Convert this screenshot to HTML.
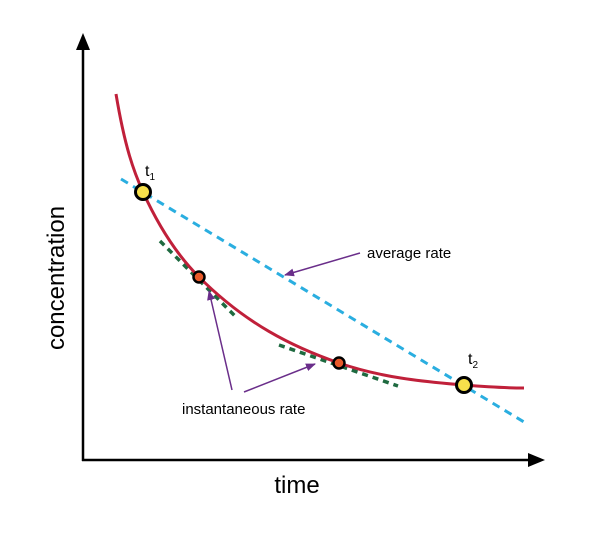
<!DOCTYPE html>
<html><head><style>body{margin:0;background:#fff}svg{display:block}</style></head><body>
<svg width="603" height="544" xmlns="http://www.w3.org/2000/svg" font-family="Liberation Sans, sans-serif">
<defs>
<marker id="ah" markerWidth="10" markerHeight="10" refX="9" refY="5" orient="auto" markerUnits="userSpaceOnUse"><path d="M0,1 L10,5 L0,9 Z" fill="#6a2e8a"/></marker>
</defs>
<line x1="83" y1="461" x2="83" y2="48" stroke="#000" stroke-width="2.5"/>
<path d="M76,50 L83,33 L90,50 Z" fill="#000"/>
<line x1="82" y1="460" x2="530" y2="460" stroke="#000" stroke-width="2.5"/>
<path d="M528,453 L545,460 L528,467 Z" fill="#000"/>
<text x="0" y="0" transform="translate(64,278) rotate(-90)" text-anchor="middle" font-size="24">concentration</text>
<text x="297" y="493" text-anchor="middle" font-size="24">time</text>
<line x1="121" y1="179" x2="524" y2="422" stroke="#2aaee0" stroke-width="3" stroke-dasharray="8,6"/>
<line x1="160" y1="241" x2="237" y2="318" stroke="#1e6a40" stroke-width="3.5" stroke-dasharray="6,5"/>
<line x1="279" y1="345" x2="398" y2="386" stroke="#1e6a40" stroke-width="3.5" stroke-dasharray="6,5"/>
<path fill="none" stroke="#c0203a" stroke-width="3" d="M116,94 C125,148 134,172 143,192 C161.7,233 180.3,258.3 199,277 C245.7,323.7 292.3,346.9 339,363 C380.7,377.4 422.3,381.7 464,385 C484,386.6 504,388 524,388"/>
<line x1="360" y1="253" x2="285" y2="275" stroke="#6a2e8a" stroke-width="1.5" marker-end="url(#ah)"/>
<line x1="232" y1="390" x2="209" y2="291" stroke="#6a2e8a" stroke-width="1.5" marker-end="url(#ah)"/>
<line x1="244" y1="392" x2="315" y2="364" stroke="#6a2e8a" stroke-width="1.5" marker-end="url(#ah)"/>
<circle cx="143" cy="192" r="7.5" fill="#f7e04b" stroke="#000" stroke-width="3"/>
<circle cx="464" cy="385" r="7.5" fill="#f7e04b" stroke="#000" stroke-width="3"/>
<circle cx="199" cy="277" r="5.5" fill="#e85a2a" stroke="#000" stroke-width="2.5"/>
<circle cx="339" cy="363" r="5.5" fill="#e85a2a" stroke="#000" stroke-width="2.5"/>
<text x="145" y="176" font-size="16">t<tspan font-size="10" dy="4">1</tspan></text>
<text x="468" y="364" font-size="16">t<tspan font-size="10" dy="4">2</tspan></text>
<text x="367" y="258" font-size="15">average rate</text>
<text x="182" y="414" font-size="15">instantaneous rate</text>
</svg>
</body></html>
